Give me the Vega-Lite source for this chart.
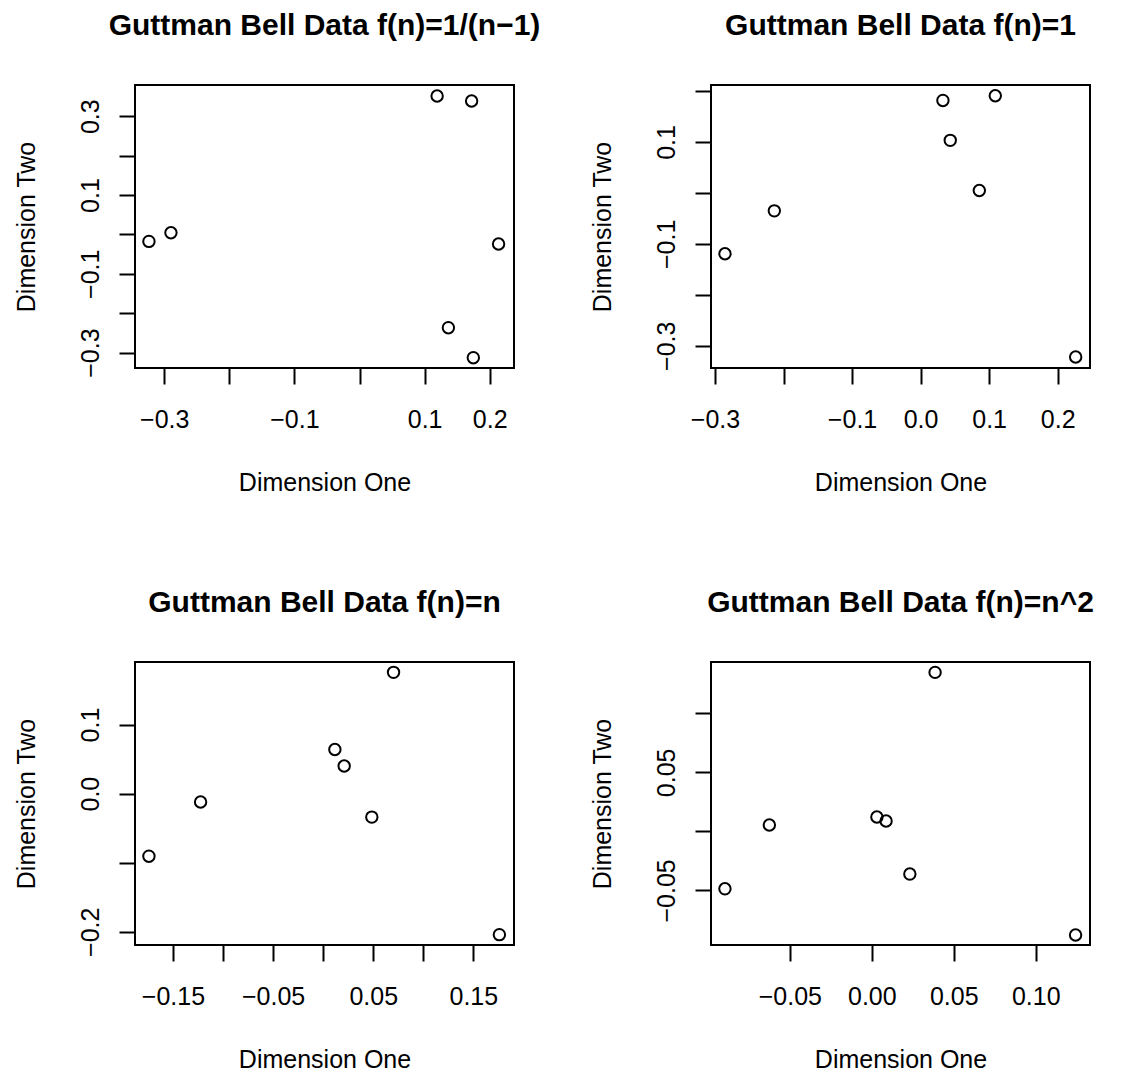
{
  "$schema": "https://vega.github.io/schema/vega-lite/v6.json",
  "autosize": {"type": "none"},
  "padding": {"left": 135, "top": 85, "right": 986, "bottom": 989},
  "background": "white",
  "columns": 2,
  "spacing": {"row": 294, "column": 197},
  "bounds": "flush",
  "datasets": {
    "p1": [
      {"x": -0.3235, "y": -0.0178},
      {"x": -0.2897, "y": 0.0043},
      {"x": 0.1192, "y": 0.3513},
      {"x": 0.1722, "y": 0.3386},
      {"x": 0.2136, "y": -0.0244},
      {"x": 0.1365, "y": -0.2368},
      {"x": 0.1748, "y": -0.3129}
    ],
    "p2": [
      {"x": -0.2854, "y": -0.1194},
      {"x": -0.2134, "y": -0.0352},
      {"x": 0.0326, "y": 0.1814},
      {"x": 0.0433, "y": 0.1031},
      {"x": 0.109, "y": 0.1906},
      {"x": 0.0857, "y": 0.0047},
      {"x": 0.2263, "y": -0.3221}
    ],
    "p3": [
      {"x": -0.174, "y": -0.0906},
      {"x": -0.1224, "y": -0.0122},
      {"x": 0.0117, "y": 0.0639},
      {"x": 0.021, "y": 0.04},
      {"x": 0.0486, "y": -0.034},
      {"x": 0.0703, "y": 0.1756},
      {"x": 0.176, "y": -0.2042}
    ],
    "p4": [
      {"x": -0.0896, "y": -0.0487},
      {"x": -0.0625, "y": 0.0054},
      {"x": 0.0031, "y": 0.0122},
      {"x": 0.0087, "y": 0.0088},
      {"x": 0.0232, "y": -0.0362},
      {"x": 0.0386, "y": 0.1347},
      {"x": 0.1243, "y": -0.0878}
    ]
  },
  "concat": [
    {
      "width": 379, "height": 283,
      "title": {"text": "Guttman Bell Data f(n)=1/(n−1)"},
      "data": {"name": "p1"},
      "mark": {"type": "point"},
      "encoding": {
        "x": {"field": "x", "type": "quantitative", "title": "Dimension One",
              "scale": {"domain": [-0.3449, 0.2373], "nice": false, "zero": false},
              "axis": {"values": [-0.3, -0.2, -0.1, 0, 0.1, 0.2],
                       "labelExpr": "indexof([-0.3, -0.1, 0.1, 0.2], datum.value) >= 0 ? format(datum.value, '.1f') : ''"}},
        "y": {"field": "y", "type": "quantitative", "title": "Dimension Two",
              "scale": {"domain": [-0.3391, 0.3792], "nice": false, "zero": false},
              "axis": {"values": [-0.3, -0.2, -0.1, 0, 0.1, 0.2, 0.3],
                       "labelExpr": "indexof([-0.3, -0.1, 0.1, 0.3], datum.value) >= 0 ? format(datum.value, '.1f') : ''"}}
      }
    },
    {
      "width": 379, "height": 283,
      "title": {"text": "Guttman Bell Data f(n)=1"},
      "data": {"name": "p2"},
      "mark": {"type": "point"},
      "encoding": {
        "x": {"field": "x", "type": "quantitative", "title": "Dimension One",
              "scale": {"domain": [-0.3058, 0.2472], "nice": false, "zero": false},
              "axis": {"values": [-0.3, -0.2, -0.1, 0, 0.1, 0.2],
                       "labelExpr": "indexof([-0.3, -0.1, 0, 0.1, 0.2], datum.value) >= 0 ? format(datum.value, '.1f') : ''"}},
        "y": {"field": "y", "type": "quantitative", "title": "Dimension Two",
              "scale": {"domain": [-0.3436, 0.2117], "nice": false, "zero": false},
              "axis": {"values": [-0.3, -0.2, -0.1, 0, 0.1, 0.2],
                       "labelExpr": "indexof([-0.3, -0.1, 0.1], datum.value) >= 0 ? format(datum.value, '.1f') : ''"}}
      }
    },
    {
      "width": 379, "height": 283,
      "title": {"text": "Guttman Bell Data f(n)=n"},
      "data": {"name": "p3"},
      "mark": {"type": "point"},
      "encoding": {
        "x": {"field": "x", "type": "quantitative", "title": "Dimension One",
              "scale": {"domain": [-0.1879, 0.1906], "nice": false, "zero": false},
              "axis": {"values": [-0.15, -0.1, -0.05, 0, 0.05, 0.1, 0.15],
                       "labelExpr": "indexof([-0.15, -0.05, 0.05, 0.15], datum.value) >= 0 ? format(datum.value, '.2f') : ''"}},
        "y": {"field": "y", "type": "quantitative", "title": "Dimension Two",
              "scale": {"domain": [-0.2192, 0.1906], "nice": false, "zero": false},
              "axis": {"values": [-0.2, -0.1, 0, 0.1],
                       "labelExpr": "indexof([-0.2, 0, 0.1], datum.value) >= 0 ? format(datum.value, '.1f') : ''"}}
      }
    },
    {
      "width": 379, "height": 283,
      "title": {"text": "Guttman Bell Data f(n)=n^2"},
      "data": {"name": "p4"},
      "mark": {"type": "point"},
      "encoding": {
        "x": {"field": "x", "type": "quantitative", "title": "Dimension One",
              "scale": {"domain": [-0.0981, 0.1331], "nice": false, "zero": false},
              "axis": {"values": [-0.05, 0, 0.05, 0.1],
                       "labelExpr": "format(datum.value, '.2f')"}},
        "y": {"field": "y", "type": "quantitative", "title": "Dimension Two",
              "scale": {"domain": [-0.0963, 0.1435], "nice": false, "zero": false},
              "axis": {"values": [-0.05, 0, 0.05, 0.1],
                       "labelExpr": "indexof([-0.05, 0.05], datum.value) >= 0 ? format(datum.value, '.2f') : ''"}}
      }
    }
  ],
  "config": {
    "font": "Liberation Sans",
    "view": {"stroke": "black", "strokeWidth": 2, "fill": "white"},
    "point": {"shape": "circle", "filled": false, "stroke": "black", "strokeWidth": 2, "size": 130, "opacity": 1},
    "title": {"frame": "group", "anchor": "middle", "font": "Liberation Sans", "fontSize": 30, "fontWeight": "bold", "color": "black", "baseline": "bottom", "offset": 44},
    "axis": {
      "domain": false, "grid": false,
      "ticks": true, "tickSize": 16, "tickWidth": 2, "tickColor": "black",
      "labelFont": "Liberation Sans", "labelFontSize": 25, "labelColor": "black",
      "labelFlush": false, "labelOverlap": false, "labelBound": false,
      "titleFont": "Liberation Sans", "titleFontSize": 25, "titleFontWeight": "normal", "titleColor": "black"
    },
    "axisX": {
      "labelPadding": 23, "labelBaseline": "top", "labelAlign": "center",
      "titleX": 189.5, "titleY": 122, "titleBaseline": "alphabetic", "titleAlign": "center", "titleAngle": 0
    },
    "axisY": {
      "labelPadding": 21, "labelAngle": 270, "labelBaseline": "alphabetic", "labelAlign": "center",
      "titleX": -101, "titleY": 141.5, "titleBaseline": "alphabetic", "titleAlign": "center", "titleAngle": 270
    }
  }
}
